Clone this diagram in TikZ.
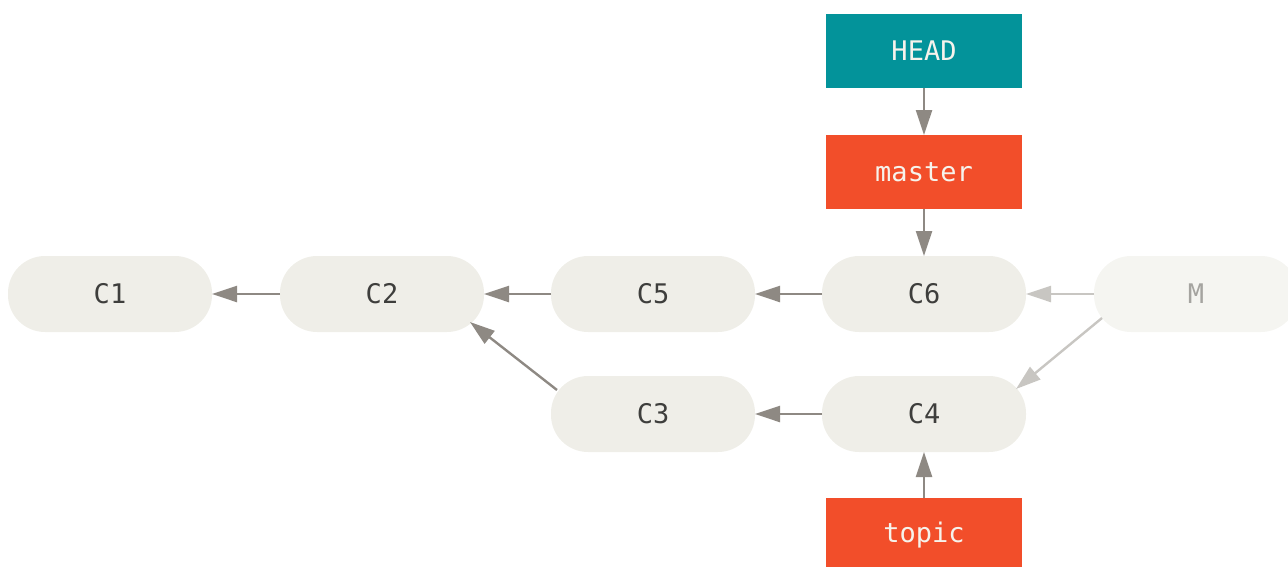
\documentclass[tikz,border=0pt]{standalone}
\usepackage{fontspec}
\setmonofont{DejaVu Sans Mono}
\usetikzlibrary{arrows.meta,calc}
\definecolor{commitfill}{RGB}{239,238,232}
\definecolor{mfill}{RGB}{245,245,241}
\definecolor{commitText}{RGB}{62,62,60}
\definecolor{mText}{RGB}{165,164,160}
\definecolor{headcol}{RGB}{3,147,154}
\definecolor{branchcol}{RGB}{242,78,42}
\definecolor{arrowcol}{RGB}{142,137,131}
\definecolor{lightarrow}{RGB}{200,198,194}
\definecolor{labeltext}{RGB}{246,243,236}
\begin{document}
\begin{tikzpicture}[x=1pt,y=-1pt,
  commit/.style={rectangle,rounded corners=37pt,minimum width=204pt,minimum height=76pt,
    inner sep=0pt,outer sep=0pt,fill=commitfill,text=commitText,
    font=\ttfamily\fontsize{27}{30}\selectfont},
  mcommit/.style={commit,fill=mfill,text=mText},
  ref/.style={rectangle,minimum width=196pt,minimum height=74pt,inner sep=0pt,outer sep=0pt,
    text=labeltext,font=\ttfamily\fontsize{27}{30}\selectfont},
  headbox/.style={ref,fill=headcol},
  branchbox/.style={ref,fill=branchcol},
  link/.style={draw=arrowcol,line width=2.4pt,-{Triangle[length=25pt,width=16pt]}},
  lightlink/.style={link,draw=lightarrow}
]
\useasboundingbox (0,0) rectangle (1288,566);
\node[commit] (C1) at (110,294) {C1};
\node[commit] (C2) at (382,294) {C2};
\node[commit] (C5) at (653,294) {C5};
\node[commit] (C6) at (924,294) {C6};
\node[mcommit] (M) at (1196,294) {M};
\node[commit] (C3) at (653,414) {C3};
\node[commit] (C4) at (924,414) {C4};
\node[headbox] (HEAD) at (924,51) {HEAD};
\node[branchbox] (master) at (924,172) {master};
\node[branchbox] (topic) at (924,535) {topic};

\draw[link] (C2.west) -- (C1.east);
\draw[link] (C5.west) -- (C2.east);
\draw[link] (C6.west) -- (C5.east);
\draw[link] (C4.west) -- (C3.east);
\draw[link] ($(C3.center)+(-96,-24)$) -- ($(C2.center)+(88,28)$);
\draw[lightlink] (M.west) -- (C6.east);
\draw[lightlink] ($(M.center)+(-94,24)$) -- ($(C4.center)+(92,-25)$);
\draw[link] (HEAD.south) -- (master.north);
\draw[link] (master.south) -- (C6.north);
\draw[link] (topic.north) -- (C4.south);
\end{tikzpicture}
\end{document}
